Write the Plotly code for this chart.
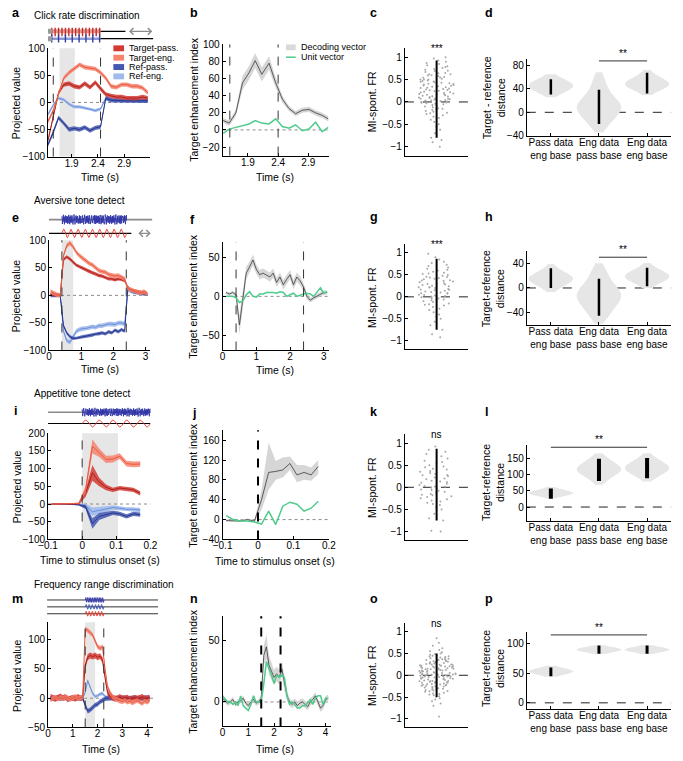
import numpy as np
import plotly.graph_objects as go

W, H = 683, 761
FONT = "Liberation Sans, Arial, Helvetica, sans-serif"

# ---------------- colours ----------------
COL = {
    "tp": ("#a9231e", "rgba(212,58,52,0.85)", "#d43a34"),
    "te": ("#e8583f", "rgba(246,132,110,0.85)", "#f6846e"),
    "rp": ("#26368c", "rgba(68,88,178,0.85)", "#4458b2"),
    "re": ("#6d8ed6", "rgba(160,186,236,0.9)", "#a0baec"),
}
GREEN = "#4fcb8b"
DEC_BAND = "rgba(200,200,200,0.75)"

# ---------------- DATA ----------------
# Panel a : click rate discrimination
a_t = [1.45, 1.55, 1.65, 1.75, 1.85, 1.95, 2.05, 2.15, 2.25, 2.35, 2.45, 2.55, 2.65, 2.75, 2.85, 2.95, 3.05, 3.15, 3.25, 3.35]
a_tp = [-70, -25, 18, 33, 35, 30, 28, 35, 28, 37, 25, 15, 12, 10, 10, 8, 8, 8, 10, 8]
a_te = [-35, -15, 15, 45, 55, 62, 70, 65, 63, 62, 55, 45, 30, 28, 33, 33, 30, 30, 27, 18]
a_rp = [-78, -55, -28, -38, -50, -48, -50, -46, -52, -47, -45, 8, 4, 3, 3, 3, 3, 3, 3, 3]
a_re = [-22, -5, 8, 5, -3, -8, -8, -10, -12, -15, -12, 8, 5, 4, 3, 3, 3, 3, 3, 3]
a_sem = {"tp": 4, "te": 4, "rp": 4, "re": 3}

# Panel b
b_t = [1.49, 1.59, 1.70, 1.81, 1.92, 2.02, 2.13, 2.25, 2.36, 2.47, 2.58, 2.69, 2.80, 2.91, 3.02, 3.13, 3.23]
b_dec = [11, 8, 20, 55, 67, 81, 65, 78, 55, 36, 25, 19, 23, 24, 20, 17, 13]
b_dec_sem = [3, 3, 4, 8, 8, 9, 8, 8, 6, 4, 3, 3, 3, 3, 3, 3, 3]
b_unit = [-4, 1, 3, 5, 7, 11, 8, 7, 13, 4, 2, 6, -1, 1, 9, -2, 3]

# Panel e : aversive tone detect
e_t = [0.05, 0.15, 0.25, 0.35, 0.45, 0.55, 0.65, 0.75, 0.85, 0.95, 1.05, 1.15, 1.25, 1.35, 1.45, 1.55,
       1.65, 1.75, 1.85, 1.95, 2.05, 2.15, 2.25, 2.35, 2.45, 2.55, 2.65, 2.75, 2.85, 2.95, 3.05]
e_tp = [2, 1, 0, 0, 65, 70, 66, 60, 55, 52, 49, 46, 43, 41, 39, 36, 35, 33, 30, 30, 28, 30, 29, 27, 14, 10, 8, 7, 5, 5, 2]
e_te = [7, 4, 1, 0, 72, 90, 95, 88, 78, 72, 67, 62, 58, 55, 50, 45, 43, 42, 38, 37, 35, 36, 33, 30, 12, 10, 8, 6, 4, 7, 3]
e_rp = [0, 0, 0, 0, -55, -68, -75, -78, -78, -76, -75, -74, -73, -72, -70, -70, -68, -70, -66, -68, -63, -66, -62, -65, 15, 8, 6, 5, 3, 3, 2]
e_re = [0, 0, 0, 0, -65, -82, -85, -75, -65, -62, -60, -60, -58, -57, -58, -55, -55, -53, -52, -52, -53, -50, -50, -52, 10, 8, 6, 5, 4, 3, 3]
e_sem = {"tp": 3, "te": 4, "rp": 3, "re": 4}

# Panel f
f_t = [0.1, 0.2, 0.3, 0.4, 0.5, 0.6, 0.7, 0.8, 0.9, 1.0, 1.1, 1.2, 1.3, 1.4, 1.5, 1.6, 1.7, 1.8, 1.9, 2.0,
       2.1, 2.2, 2.3, 2.4, 2.5, 2.6, 2.7, 2.8, 2.9, 3.0, 3.1]
f_dec = [5, 3, 5, 2, -37, -5, 30, 38, 47, 35, 28, 30, 28, 25, 30, 18, 25, 15, 22, 28, 15, 25, 20, 12, 0, -5, -2, 0, 3, 5, 5]
f_dec_sem = [2, 2, 2, 3, 12, 10, 8, 7, 7, 6, 6, 6, 6, 6, 6, 6, 6, 6, 6, 6, 6, 6, 6, 5, 4, 3, 3, 3, 3, 3, 3]
f_unit = [0, 0, 0, -2, -8, -6, 2, 6, 0, -1, 3, 3, 5, 5, 5, 4, 6, 5, 0, 2, 4, 0, 2, 3, 4, 3, 0, 5, 11, 4, 6]

# Panel i : appetitive tone detect
i_t = [-0.09, -0.07, -0.05, -0.03, -0.01, 0.01, 0.03, 0.05, 0.07, 0.09, 0.11, 0.13, 0.15, 0.17]
i_tp = [0, 0, -1, 0, 1, 30, 88, 62, 47, 40, 45, 43, 40, 30]
i_te = [0, 0, 0, 1, 2, 40, 163, 145, 126, 127, 135, 114, 112, 113]
i_rp = [-1, 0, 0, -1, -2, -8, -55, -35, -30, -25, -28, -35, -28, -30]
i_re = [0, -1, 0, 0, -1, -5, -22, -18, -14, -10, -12, -15, -15, -17]
i_sem = {
    "tp": [1, 1, 1, 1, 2, 10, 22, 12, 8, 6, 6, 6, 6, 6],
    "te": [1, 1, 1, 1, 2, 10, 20, 12, 10, 10, 8, 8, 8, 8],
    "rp": [1, 1, 1, 1, 2, 6, 15, 10, 8, 6, 6, 6, 6, 6],
    "re": [1, 1, 1, 1, 2, 6, 12, 10, 8, 6, 6, 6, 6, 6],
}

# Panel j
j_t = i_t
j_dec = [-2, -2, -3, 0, -3, 40, 95, 97, 100, 113, 90, 95, 90, 107]
j_dec_lo = [-4, -4, -5, -2, -5, 20, 60, 80, 85, 100, 75, 80, 78, 92]
j_dec_hi = [0, 0, -1, 2, -1, 60, 155, 118, 125, 127, 110, 110, 105, 120]
j_unit = [8, 0, -3, -3, -5, -9, 17, -10, 27, 35, 31, 17, 23, 37]

# Panel m : frequency range discrimination
m_t = [0.1, 0.2, 0.3, 0.4, 0.5, 0.6, 0.7, 0.8, 0.9, 1.0, 1.1, 1.2, 1.3, 1.4, 1.5, 1.6, 1.7, 1.8, 1.9, 2.0, 2.1,
       2.2, 2.3, 2.4, 2.5, 2.6, 2.7, 2.8, 2.9, 3.0, 3.1, 3.2, 3.3, 3.4, 3.5, 3.6, 3.7, 3.8, 3.9, 4.0, 4.1]
m_tp = [2, 0, -1, 1, 3, 0, 2, -2, 0, 1, -1, 2, 0, 1, 55, 70, 73, 71, 73, 70, 72, 65, 35, 10, 3,
        1, -1, 0, 2, -1, 0, 1, -2, 0, 1, -1, 0, 2, -1, 0, 1]
m_te = [-3, 0, 2, -2, 1, -1, 2, 0, -2, 1, 3, -1, 0, 2, 118, 116, 112, 108, 98, 88, 85, 88, 50, 20, 10,
        3, -1, -3, -5, -6, -4, -7, -5, -8, -6, -4, -7, -9, -5, -7, -4]
m_rp = [0, -1, 0, 1, -1, 0, 1, 0, -1, 0, 1, -1, 0, 0, -12, -22, -20, -16, -12, -10, -6, -4, -1, 0, 0,
        1, 0, -1, 0, 1, 0, -1, 0, 0, 1, 0, -1, 0, 1, 0, 0]
m_re = [0, 1, -1, 0, 2, -1, 0, 1, 0, -1, 1, 0, -1, 0, 10, 30, 18, 8, 3, 4, 7, 8, 3, 1, -1,
        -2, -1, -3, -2, 0, -1, -2, -3, -1, -2, 0, -1, -2, -1, -2, 0]
m_sem = {"tp": 5, "te": 4, "rp": 4, "re": 3}

# Panel n
n_t = [0.0, 0.1, 0.2, 0.3, 0.4, 0.5, 0.6, 0.7, 0.8, 0.9, 1.0, 1.1, 1.2, 1.3, 1.4, 1.5, 1.6, 1.7, 1.8, 1.9, 2.0,
       2.1, 2.2, 2.3, 2.4, 2.5, 2.6, 2.7, 2.8, 2.9, 3.0, 3.1, 3.2, 3.3, 3.4, 3.5, 3.6, 3.7, 3.8, 3.9, 4.0, 4.1]
n_dec = [3, 1, -1, 0, 2, -2, 0, 1, 3, -1, -3, 0, 2, -1, 0, 3, 38, 45, 30, 25, 20, 23, 20, 27, 15, 5, 0,
         -2, 0, -3, -1, 0, -2, -4, 0, 2, 5, 0, -5, -3, 2, 3]
n_dec_sem = [2, 2, 2, 2, 2, 2, 2, 2, 2, 2, 2, 2, 2, 2, 2, 3, 8, 10, 8, 7, 6, 6, 6, 6, 5, 4, 3,
             3, 3, 3, 3, 3, 3, 3, 3, 3, 3, 3, 3, 3, 3, 3]
n_unit = [5, 2, 0, 0, -2, 0, -3, 5, -3, -5, -7, -2, 5, 0, 0, 0, 15, 33, 27, 22, 15, 22, 20, 22, 20, 5, -2,
          0, -2, -5, -5, -3, -3, 0, 2, -2, 3, 5, 5, -2, 3, 3]

# MI (spontaneous firing rate) per unit, panels c, g, k, o
c_mi = [1.0, 0.97, 0.93, 0.9, 0.87, 0.85, 0.82, 0.8, 0.78, 0.76, 0.74, 0.72, 0.7, 0.69, 0.67, 0.65, 0.64, 0.62,
        0.6, 0.59, 0.58, 0.56, 0.55, 0.54, 0.52, 0.5, 0.5, 0.48, 0.47, 0.46, 0.45, 0.44, 0.42, 0.41, 0.4, 0.39,
        0.38, 0.36, 0.35, 0.34, 0.33, 0.32, 0.3, 0.29, 0.28, 0.27, 0.26, 0.25, 0.24, 0.22, 0.21, 0.2, 0.19, 0.18,
        0.17, 0.16, 0.15, 0.14, 0.12, 0.11, 0.1, 0.09, 0.08, 0.07, 0.06, 0.05, 0.04, 0.03, 0.02, 0.01, 0.0,
        -0.01, -0.02, -0.04, -0.05, -0.07, -0.08, -0.1, -0.12, -0.14, -0.16, -0.18, -0.2, -0.22, -0.25, -0.27,
        -0.3, -0.33, -0.36, -0.4, -0.45, -0.5, -0.55, -0.62, -0.7, -0.8, -0.9, -1.0, 0.62, 0.5, 0.43, 0.37,
        0.31, 0.23, 0.17, 0.13, 0.07, 0.03, -0.03, -0.15, -0.24, -0.85]
g_mi = [0.98, 0.9, 0.85, 0.8, 0.77, 0.73, 0.7, 0.67, 0.64, 0.62, 0.6, 0.57, 0.55, 0.53, 0.5, 0.48, 0.46, 0.45,
        0.43, 0.41, 0.4, 0.38, 0.36, 0.35, 0.33, 0.31, 0.3, 0.28, 0.27, 0.25, 0.24, 0.22, 0.21, 0.2, 0.18, 0.17,
        0.15, 0.14, 0.12, 0.11, 0.1, 0.08, 0.07, 0.05, 0.04, 0.03, 0.02, 0.0, -0.01, -0.03, -0.04, -0.06, -0.08,
        -0.1, -0.12, -0.15, -0.18, -0.2, -0.23, -0.27, -0.3, -0.35, -0.4, -0.45, -0.5, -0.57, -0.65, -0.75,
        -0.85, -0.92, 0.52, 0.44, 0.37, 0.29, 0.22, 0.16, 0.09, 0.01, -0.07, -0.17]
k_mi = [0.92, 0.85, 0.8, 0.75, 0.7, 0.65, 0.6, 0.57, 0.55, 0.5, 0.47, 0.45, 0.42, 0.4, 0.37, 0.35, 0.32, 0.3,
        0.27, 0.25, 0.22, 0.2, 0.18, 0.15, 0.13, 0.1, 0.08, 0.05, 0.03, 0.01, -0.01, -0.03, -0.05, -0.08, -0.1,
        -0.12, -0.15, -0.17, -0.2, -0.22, -0.25, -0.27, -0.3, -0.32, -0.35, -0.38, -0.4, -0.45, -0.5, -0.6,
        -0.7, -0.75, -0.98, -1.0, 0.12, 0.02, -0.06, 0.28, -0.18]
o_mi = [0.85, 0.75, 0.68, 0.62, 0.58, 0.55, 0.53, 0.5, 0.49, 0.47, 0.46, 0.45, 0.44, 0.42, 0.41, 0.4, 0.39, 0.38,
        0.37, 0.36, 0.35, 0.35, 0.34, 0.33, 0.32, 0.31, 0.3, 0.3, 0.29, 0.28, 0.27, 0.26, 0.25, 0.25, 0.24, 0.23,
        0.22, 0.22, 0.21, 0.2, 0.2, 0.19, 0.18, 0.18, 0.17, 0.16, 0.15, 0.15, 0.14, 0.13, 0.12, 0.12, 0.11, 0.1,
        0.1, 0.09, 0.08, 0.08, 0.07, 0.06, 0.05, 0.05, 0.04, 0.03, 0.03, 0.02, 0.01, 0.01, 0.0, 0.0, -0.01,
        -0.02, -0.02, -0.03, -0.04, -0.04, -0.05, -0.06, -0.06, -0.07, -0.08, -0.09, -0.1, -0.1, -0.11, -0.12,
        -0.13, -0.14, -0.15, -0.15, -0.16, -0.17, -0.18, -0.19, -0.2, -0.2, -0.21, -0.22, -0.23, -0.24, -0.25,
        -0.26, -0.27, -0.28, -0.29, -0.3, -0.31, -0.32, -0.34, -0.35, -0.36, -0.38, -0.4, -0.42, -0.44, -0.46,
        -0.48, -0.5, -0.53, -0.56, -0.6, -0.65, -0.7, -0.95, 0.33, 0.27, 0.21, 0.16, 0.11, 0.06, 0.02, -0.03,
        -0.08, -0.13, -0.17, -0.22, -0.27, -0.33, 0.43, -0.43, 0.36, -0.37, 0.24, -0.24, 0.14, -0.14, 0.04, -0.05]
mi_range = {"c": (-0.8, 0.93), "g": (-0.75, 0.87), "k": (-0.75, 0.87), "o": (-0.5, 0.5)}
mi_sig = {"c": "***", "g": "***", "k": "ns", "o": "ns"}

# Target-reference distance (bootstrap distributions), panels d, h, l, p
dist_cats = ["Pass data<br>eng base", "Eng data<br>pass base", "Eng data<br>eng base"]
d_dist = [[29, 32, 34, 36, 38, 39, 40, 41, 42, 43, 44, 45, 46, 47, 48, 49, 50, 51, 52, 54, 56, 58, 61],
          [-28, -22, -17, -13, -9, -6, -3, 0, 2, 4, 6, 8, 10, 12, 14, 16, 18, 21, 24, 28, 33, 39, 46, 54, 62],
          [33, 36, 38, 40, 42, 43, 44, 45, 46, 47, 48, 49, 50, 51, 52, 53, 54, 56, 58, 61, 64, 68]]
h_dist = [[-3, 0, 3, 5, 7, 9, 10, 11, 12, 13, 14, 15, 16, 17, 18, 19, 20, 21, 23, 25, 27, 30, 35],
          [-52, -46, -41, -37, -33, -29, -26, -23, -20, -18, -16, -14, -12, -10, -8, -6, -4, -1, 2, 6, 10, 15, 21, 28, 34],
          [3, 6, 9, 11, 13, 14, 15, 16, 17, 18, 19, 20, 21, 22, 23, 24, 25, 27, 29, 32, 37]]
l_dist = [[30, 33, 35, 37, 38, 39, 40, 41, 42, 43, 44, 45, 46, 47, 48, 50, 52, 55, 58],
          [75, 82, 88, 93, 97, 100, 103, 106, 108, 110, 112, 114, 116, 118, 120, 122, 124, 126, 129, 132, 136, 140, 145, 150, 157],
          [85, 91, 96, 100, 104, 107, 110, 112, 114, 116, 118, 120, 122, 124, 126, 128, 130, 133, 136, 140, 145, 151, 158]]
p_dist = [[46, 47, 48, 49, 50, 51, 52, 52, 53, 53, 54, 54, 55, 55, 56, 57, 58, 59, 61],
          [84, 85, 86, 87, 88, 88, 89, 89, 90, 90, 90, 91, 91, 92, 92, 93, 94, 95, 96],
          [84, 85, 86, 87, 88, 88, 89, 89, 90, 90, 90, 91, 91, 92, 92, 93, 94, 95, 96]]
d_bars = [(30, 56), (-20, 38), (32, 67)]
h_bars = [(0, 32), (-45, 15), (3, 33)]
l_bars = [(25, 57), (80, 148), (88, 150)]
p_bars = [(45, 60), (83, 97), (83, 97)]
d_sig = (2, 3, 87)
h_sig = (2, 3, 50)
l_sig = (1, 3, 183)
p_sig = (1, 3, 115)

# ---------------- figure helpers ----------------
fig = go.Figure()
layout = dict(width=W, height=H, margin=dict(l=0, r=0, t=0, b=0), paper_bgcolor="white",
              plot_bgcolor="white", showlegend=False, boxmode="overlay", violinmode="overlay",
              font=dict(family=FONT, size=9.5, color="black"))
shapes, annots = [], []
n_ax = [0]


def add_axes(xpx, ypx, xr, yr, xtick=None, ytick=None, ytext=None, xtext=None, visible=True,
             xticks="inside", bottom_line=True):
    n_ax[0] += 1
    k = "" if n_ax[0] == 1 else str(n_ax[0])
    common = dict(showgrid=False, zeroline=False, fixedrange=True, visible=visible,
                  linecolor="black", linewidth=1, tickcolor="black", tickwidth=1, ticklen=3,
                  tickfont=dict(size=10, family=FONT, color="black"))
    layout["xaxis" + k] = dict(common, domain=[xpx[0] / W, xpx[1] / W], range=xr, anchor="y" + k,
                               showline=bottom_line, ticks=xticks if xtick is not None else "",
                               tickvals=xtick, ticktext=xtext, showticklabels=xtick is not None,
                               ticklabelstandoff=-3)
    layout["yaxis" + k] = dict(common, domain=[1 - ypx[1] / H, 1 - ypx[0] / H], range=yr, anchor="x" + k,
                               showline=True, ticks="inside" if ytick is not None else "",
                               tickvals=ytick, ticktext=ytext, showticklabels=ytick is not None)
    return "x" + k, "y" + k


def line(xa, ya, x, y, color, width=1.0, dash=None):
    fig.add_trace(go.Scatter(x=x, y=y, mode="lines", xaxis=xa, yaxis=ya, hoverinfo="skip",
                             line=dict(color=color, width=width, dash=dash)))


def band(xa, ya, t, lo, hi, fill):
    t = list(t)
    fig.add_trace(go.Scatter(x=t + t[::-1], y=list(hi) + list(lo)[::-1], mode="lines", fill="toself",
                             fillcolor=fill, line=dict(width=0), xaxis=xa, yaxis=ya, hoverinfo="skip"))


def series(xa, ya, t, y, sem, key):
    y = np.asarray(y, float)
    s = np.broadcast_to(np.asarray(sem, float), y.shape)
    band(xa, ya, t, y - s, y + s, COL[key][1])
    line(xa, ya, t, y, COL[key][0], 1.0)


def vline(xa, ya, x, color="#333333", width=1, dash="dash"):
    shapes.append(dict(type="line", xref=xa, yref=ya + " domain", x0=x, x1=x, y0=0, y1=1,
                       line=dict(color=color, width=width, dash=dash)))


def hline(xa, ya, y, color="#8a8a8a", width=1, dash="dot"):
    shapes.append(dict(type="line", xref=xa + " domain", yref=ya, x0=0, x1=1, y0=y, y1=y,
                       line=dict(color=color, width=width, dash=dash), layer="below"))


def window(xa, ya, x0, x1):
    shapes.append(dict(type="rect", xref=xa, yref=ya + " domain", x0=x0, x1=x1, y0=0, y1=1,
                       fillcolor="#e6e6e6", line=dict(width=0), layer="below"))


def text(px, py, s, size=9.5, xanchor="center", yanchor="middle", angle=0, bold=False, color="black"):
    annots.append(dict(x=px / W, y=1 - py / H, xref="paper", yref="paper", text=f"<b>{s}</b>" if bold else s,
                       showarrow=False, xanchor=xanchor, yanchor=yanchor, textangle=angle,
                       font=dict(size=size, family=FONT, color=color)))


def proj_panel(xpx, ypx, xr, yr, xt, yt, t, data, sem, win, dashes):
    xa, ya = add_axes(xpx, ypx, xr, yr, xt, yt)
    window(xa, ya, *win)
    hline(xa, ya, 0)
    for key in ["re", "rp", "tp", "te"]:
        series(xa, ya, t, data[key], sem[key], key)
    for d in dashes:
        vline(xa, ya, d)
    return xa, ya


def dec_panel(xpx, ypx, xr, yr, xt, yt, t, dec, lo, hi, unit, dashes, dwidth=1, dcolor="#333333"):
    xa, ya = add_axes(xpx, ypx, xr, yr, xt, yt)
    hline(xa, ya, 0)
    band(xa, ya, t, lo, hi, DEC_BAND)
    line(xa, ya, t, dec, "#3a3a3a", 0.8)
    line(xa, ya, t, unit, GREEN, 1.5)
    for d in dashes:
        vline(xa, ya, d, color=dcolor, width=dwidth)
    return xa, ya


def mi_panel(xpx, ypx, vals, key):
    xa, ya = add_axes(xpx, ypx, [-1, 1], [-1.2, 1.2], None, [-1, -0.5, 0, 0.5, 1],
                      ["\u22121", "\u22120.5", "0", "0.5", "1"])
    hline(xa, ya, 0, color="#222222", dash="dash")
    fig.add_trace(go.Box(y=vals, x0=0, width=1.2, boxpoints="all", jitter=1, pointpos=0,
                         fillcolor="rgba(0,0,0,0)", line=dict(width=0, color="rgba(0,0,0,0)"),
                         marker=dict(size=2, color="#a8a8a8"), xaxis=xa, yaxis=ya, hoverinfo="skip"))
    lo, hi = mi_range[key]
    line(xa, ya, [0, 0], [lo, hi], "black", 2)
    annots.append(dict(x=0, y=1.0, xref=xa, yref=ya + " domain", text=mi_sig[key], showarrow=False,
                       yanchor="middle", font=dict(size=10, family=FONT, color="black")))
    return xa, ya


def dist_panel(xpx, ypx, yr, yt, dists, bars, sig, bw, barw=2.5):
    xa, ya = add_axes(xpx, ypx, [0.5, 3.5], yr, [1, 2, 3], yt, None, dist_cats)
    hline(xa, ya, 0, color="#222222", dash="dash")
    for i, (vals, b) in enumerate(zip(dists, bw)):
        lo = min(vals) - b * 0.5
        hi = max(vals) + b * 0.5
        fig.add_trace(go.Violin(y=vals, x0=i + 1, width=0.92, points=False, bandwidth=b,
                                spanmode="manual", span=[lo, hi], scalemode="width", side="both",
                                fillcolor="#e6e6e6", line=dict(width=0, color="#e6e6e6"),
                                xaxis=xa, yaxis=ya, hoverinfo="skip"))
    for i, (lo, hi) in enumerate(bars):
        line(xa, ya, [i + 1, i + 1], [lo, hi], "black", barw)
    x0, x1, ys = sig
    line(xa, ya, [x0, x1], [ys, ys], "#333333", 1)
    annots.append(dict(x=(x0 + x1) / 2, y=ys, xref=xa, yref=ya, text="**", showarrow=False,
                       yanchor="bottom", font=dict(size=10, family=FONT, color="black")))
    return xa, ya


# ---------------- stimulus schematics ----------------
def dbl_arrow(xa, ya, x0, x1, y):
    annots.append(dict(x=x1, y=y, ax=x0, ay=y, xref=xa, yref=ya, axref=xa, ayref=ya, text="",
                       showarrow=True, arrowhead=4, startarrowhead=4, arrowside="end+start",
                       arrowsize=1.1, arrowwidth=1.2, arrowcolor="#8c8c8c"))


def wiggle(xa, ya, x0, x1, y0, n, amp, color, cycles=None):
    xs = np.linspace(x0, x1, n)
    if cycles is None:
        ph = np.linspace(0, 1, n)
        ys = y0 + amp * (0.55 * np.sin(ph * 611.0) + 0.3 * np.sin(ph * 1377.0 + 1.0)
                         + 0.25 * np.sin(ph * 233.0 + 2.0))
    else:
        ys = y0 + amp * np.sin(np.linspace(0, 2 * np.pi * cycles, n))
    line(xa, ya, xs, ys, color, 0.9)


# row 1 schematic (clicks)
xa, ya = add_axes((39, 147), (22, 37), [1.45, 3.45], [-0.5, 1.5], visible=False)
line(xa, ya, [1.45, 2.92], [1, 1], "black", 1.2)
line(xa, ya, [1.45, 3.45], [0, 0], "black", 1.2)
dbl_arrow(xa, ya, 2.96, 3.43, 1)
line(xa, ya, [1.5, 2.45], [1, 1], "#e79a93", 4)
line(xa, ya, [1.5, 2.45], [0, 0], "#8e9ad6", 2.5)
fig.add_trace(go.Scatter(x=list(np.linspace(1.52, 2.43, 15)), y=[1] * 15, mode="markers", xaxis=xa, yaxis=ya,
                         hoverinfo="skip",
                         marker=dict(symbol="line-ns", size=7, line=dict(width=1.4, color="#c0302b"))))
fig.add_trace(go.Scatter(x=list(np.linspace(1.52, 2.43, 8)), y=[0] * 8, mode="markers", xaxis=xa, yaxis=ya,
                         hoverinfo="skip",
                         marker=dict(symbol="line-ns", size=6, line=dict(width=1.4, color="#2f3f9e"))))
fig.add_trace(go.Scatter(x=[1.48, 1.48], y=[1, 0], mode="markers", xaxis=xa, yaxis=ya, hoverinfo="skip",
                         marker=dict(symbol="square", size=5, color="#9a9a9a")))

# row 2 schematic (aversive)
xa, ya = add_axes((40, 146), (210, 238), [0, 3.2], [-0.5, 1.5], visible=False)
line(xa, ya, [0, 3.2], [1, 1], "#8a8a8a", 1.6)
line(xa, ya, [0, 2.55], [0, 0], "black", 1.1)
wiggle(xa, ya, 0.4, 2.4, 1, 700, 0.34, "#3136a8")
wiggle(xa, ya, 0.4, 2.4, 0, 200, 0.3, "#e8352a", cycles=9)
dbl_arrow(xa, ya, 2.72, 3.15, 0)

# row 3 schematic (appetitive)
xa, ya = add_axes((39, 144), (407, 430), [-0.1, 0.2], [-0.5, 1.5], visible=False)
line(xa, ya, [-0.1, 0.2], [1, 1], "#8a8a8a", 1.4)
line(xa, ya, [-0.1, 0.2], [0, 0], "black", 1.1)
wiggle(xa, ya, 0.0, 0.2, 1, 700, 0.36, "#3136a8")
wiggle(xa, ya, 0.0, 0.2, 0, 150, 0.3, "#e8352a", cycles=5)

# row 4 schematic (frequency range)
xa, ya = add_axes((38, 152), (600, 621), [-0.05, 4.45], [-0.5, 2.5], visible=False)
for yy in (2, 1, 0):
    line(xa, ya, [-0.05, 4.45], [yy, yy], "#333333", 1.0)
wiggle(xa, ya, 1.5, 2.25, 2, 80, 0.35, "#3136a8", cycles=11)
wiggle(xa, ya, 1.5, 2.25, 1, 50, 0.35, "#3a4fb0", cycles=6)
wiggle(xa, ya, 1.5, 2.25, 0, 50, 0.35, "#e8352a", cycles=6)

# ---------------- panels ----------------
# Row 1
proj_panel((39, 144), (43, 153), [1.45, 3.4], [-100, 100], [1.9, 2.4, 2.9], [-100, -50, 0, 50, 100],
           a_t, {"tp": a_tp, "te": a_te, "rp": a_rp, "re": a_re}, a_sem, (1.67, 1.96), [1.55, 2.45])
bd = np.asarray(b_dec, float); bs = np.asarray(b_dec_sem, float)
dec_panel((218, 327), (39, 152), [1.48, 3.24], [-30, 100], [1.9, 2.4, 2.9], [-20, 0, 20, 40, 60, 80, 100],
          b_t, b_dec, bd - bs, bd + bs, b_unit, [1.6, 2.4])
mi_panel((405, 470), (43, 152), c_mi, "c")
dist_panel((530, 678), (54, 132), [-40, 90], [-40, 0, 40, 80], d_dist, d_bars, d_sig, [7, 12, 7])

# Row 2
proj_panel((40, 144), (238, 350), [0, 3.15], [-100, 100], [0, 1, 2, 3], [-100, -50, 0, 50, 100],
           e_t, {"tp": e_tp, "te": e_te, "rp": e_rp, "re": e_re}, e_sem, (0.4, 0.75), [0.4, 2.4])
fd = np.asarray(f_dec, float); fs = np.asarray(f_dec_sem, float)
dec_panel((218, 327), (240, 350), [0, 3.15], [-70, 70], [0, 1, 2, 3], [-50, 0, 50],
          f_t, f_dec, fd - fs, fd + fs, f_unit, [0.4, 2.4])
mi_panel((405, 470), (242, 349), g_mi, "g")
dist_panel((530, 678), (249, 324), [-60, 60], [-40, 0, 40], h_dist, h_bars, h_sig, [7, 12, 7])

# Row 3
proj_panel((39, 144), (434, 542), [-0.1, 0.2], [-100, 200], [-0.1, 0, 0.1, 0.2],
           [-100, -50, 0, 50, 100, 150, 200],
           i_t, {"tp": i_tp, "te": i_te, "rp": i_rp, "re": i_re}, i_sem, (0.0, 0.105), [0.0])
dec_panel((218, 327), (431, 542), [-0.1, 0.2], [-40, 180], [-0.1, 0, 0.1, 0.2], [-40, 0, 40, 80, 120, 160],
          j_t, j_dec, j_dec_lo, j_dec_hi, j_unit, [0.0], dwidth=2, dcolor="black")
mi_panel((405, 470), (435, 543), k_mi, "k")
dist_panel((530, 678), (446, 523), [-42, 190], [0, 50, 100, 150], l_dist, l_bars, l_sig, [6, 14, 13], barw=4)

# Row 4
proj_panel((39, 147), (626, 733), [0, 4.25], [-50, 130], [0, 1, 2, 3, 4], [-50, 0, 50, 100],
           m_t, {"tp": m_tp, "te": m_te, "rp": m_rp, "re": m_re}, m_sem, (1.5, 1.9), [1.5, 2.25])
nd = np.asarray(n_dec, float); ns_ = np.asarray(n_dec_sem, float)
dec_panel((218, 329), (620, 732), [0, 4.2], [-20, 70], [0, 1, 2, 3, 4], [0, 50],
          n_t, n_dec, nd - ns_, nd + ns_, n_unit, [1.5, 2.25], dwidth=2, dcolor="black")
mi_panel((405, 470), (627, 733), o_mi, "o")
dist_panel((530, 678), (636, 714), [-10, 120], [0, 50, 100], p_dist, p_bars, p_sig, [3.5, 3, 3], barw=3)

# ---------------- legends (panel a, panel b) ----------------
for i, (key, lab) in enumerate([("tp", "Target-pass."), ("te", "Target-eng."), ("rp", "Ref-pass."), ("re", "Ref-eng.")]):
    cy = 43 + i * 9.5
    shapes.append(dict(type="rect", xref="paper", yref="paper", x0=106 / W, x1=117 / W,
                       y0=1 - (cy + 3) / H, y1=1 - (cy - 3) / H, fillcolor=COL[key][2],
                       line=dict(width=0)))
    text(120, cy, lab, size=9, xanchor="left")
shapes.append(dict(type="rect", xref="paper", yref="paper", x0=283 / W, x1=293 / W, y0=1 - 45 / H, y1=1 - 39 / H,
                   fillcolor="#d9d9d9", line=dict(width=0)))
text(296, 42, "Decoding vector", size=9, xanchor="left")
shapes.append(dict(type="line", xref="paper", yref="paper", x0=283 / W, x1=293 / W, y0=1 - 52 / H, y1=1 - 52 / H,
                   line=dict(color=GREEN, width=1.5)))
text(296, 52, "Unit vector", size=9, xanchor="left")

# ---------------- titles & labels ----------------
for s, y in [("Click rate discrimination", 10), ("Aversive tone detect", 198),
             ("Appetitive tone detect", 394), ("Frequency range discrimination", 588)]:
    text(23, y, s, size=10, xanchor="left")

for s, x, y in [("a", 0, 7), ("b", 183, 7), ("c", 367, 7), ("d", 485, 7),
                ("e", 0, 215), ("f", 183, 217), ("g", 367, 214), ("h", 485, 214),
                ("i", 2, 411), ("j", 185, 414), ("k", 367, 413), ("l", 485, 413),
                ("m", 0, 602), ("n", 183, 602), ("o", 367, 602), ("p", 485, 602)]:
    text(x, y, s, size=12.5, xanchor="left", bold=True)

for y in (98, 294, 488, 680):
    text(7, y, "Projected value", size=10.5, angle=-90)
for y in (95, 295, 487, 676):
    text(188, y, "Target enhancement index", size=10.5, angle=-90)
for y in (97, 296, 489, 680):
    text(372, y, "MI-spont. FR", size=10.5, angle=-90)
text(496, 93, "Target - reference<br>distance", size=10.5, angle=-90)
text(496, 287, "Target-reference<br>distance", size=10.5, angle=-90)
text(496, 484, "Target-reference<br>distance", size=10.5, angle=-90)
text(496, 673, "Target-reference<br>distance", size=10.5, angle=-90)

text(92, 174, "Time (s)", size=10.5)
text(272, 174, "Time (s)", size=10.5)
text(92, 369, "Time (s)", size=10.5)
text(272, 370, "Time (s)", size=10.5)
text(92, 563, "Time to stimulus onset (s)", size=10.5)
text(272, 564, "Time to stimulus onset (s)", size=10.5)
text(93, 755, "Time (s)", size=10.5)
text(272, 755, "Time (s)", size=10.5)

layout["shapes"] = shapes
layout["annotations"] = annots
fig.update_layout(**layout)
fig.write_html("out.html", config={"displayModeBar": False},
               post_script="document.body.style.margin='0';")
